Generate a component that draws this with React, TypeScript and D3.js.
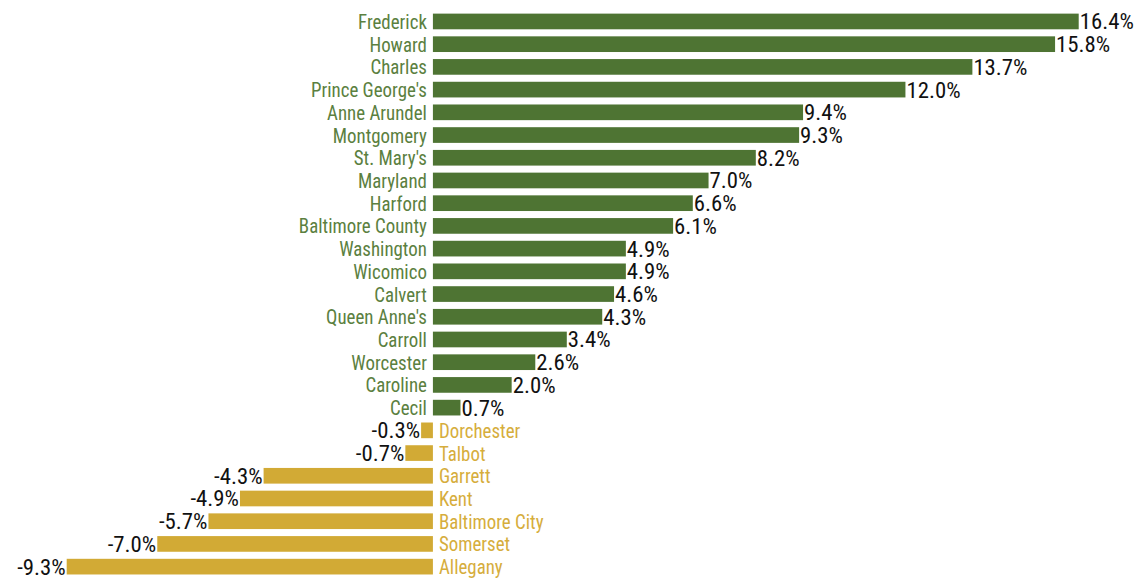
import React from "react";
import * as d3 from "d3";

const counties = ["Frederick","Howard","Charles","Prince George's","Anne Arundel","Montgomery","St. Mary's","Maryland","Harford","Baltimore County","Washington","Wicomico","Calvert","Queen Anne's","Carroll","Worcester","Caroline","Cecil","Dorchester","Talbot","Garrett","Kent","Baltimore City","Somerset","Allegany"];
const values = [16.4,15.8,13.7,12.0,9.4,9.3,8.2,7.0,6.6,6.1,4.9,4.9,4.6,4.3,3.4,2.6,2.0,0.7,-0.3,-0.7,-4.3,-4.9,-5.7,-7.0,-9.3];

const W = 1144, H = 580;
const GREEN = "#4e7433";
const GOLD = "#d2aa35";
const GREEN_TXT = "#5b8040";
const GOLD_TXT = "#d6ad3c";
const FONT = "'Liberation Sans Narrow', 'Arial Narrow', 'Roboto Condensed', sans-serif";

export default function App() {
  const x = d3.scaleLinear().domain([-9.3, 16.4]).range([66.7, 1078.7]);
  const y = d3.scaleBand<string>().domain(counties).range([10.1, 578.0]).paddingInner(0.31).paddingOuter(0.155);
  const x0 = x(0);
  return (
    <svg width={W} height={H} style={{ position: "absolute", left: 0, top: 0, display: "block" }}>
      {counties.map((c, i) => {
        const v = values[i];
        const yy = y(c)!;
        const h = y.bandwidth();
        const cy = yy + h / 2;
        const pos = v >= 0;
        const bx = pos ? x0 : x(v);
        const bw = Math.abs(x(v) - x0);
        const lx = pos ? x0 - 6 : x0 + 6;
        const vx = pos ? x(v) + 1 : x(v) - 1;
        return (
          <g key={c}>
            <rect x={bx} y={yy} width={bw} height={h} fill={pos ? GREEN : GOLD} />
            <g transform={`translate(${lx},${cy}) scale(0.9,1)`}>
              <text
                y={0}
                dy="0.36em"
                textAnchor={pos ? "end" : "start"}
                fill={pos ? GREEN_TXT : GOLD_TXT}
                fontFamily={FONT}
                fontSize={21}
              >{c}</text>
            </g>
            <g transform={`translate(${vx},${cy}) scale(1.06,1)`}>
              <text
                y={0}
                dy="0.37em"
                textAnchor={pos ? "start" : "end"}
                fill="#111"
                fontFamily={FONT}
                fontSize={21.5}
              >{v.toFixed(1) + "%"}</text>
            </g>
          </g>
        );
      })}
    </svg>
  );
}
